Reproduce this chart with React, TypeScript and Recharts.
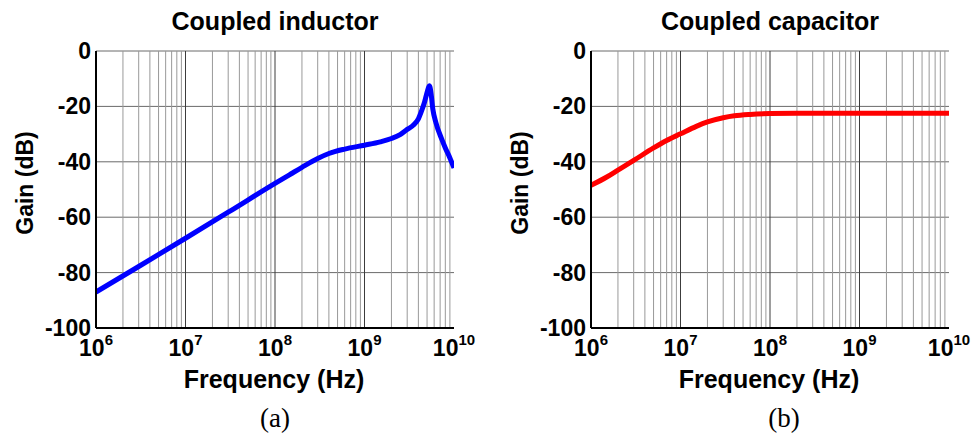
import { LineChart, Line, XAxis, YAxis, CartesianGrid, ReferenceLine } from "recharts";

// frequency response
const freqInductor = [
  1e6, 3e6, 1e7, 3e7, 1e8, 1.5e8, 2e8, 3e8, 4e8, 6e8, 1e9, 1.5e9, 2e9, 2.5e9, 3e9,
  3.5e9, 4e9, 4.3e9, 4.7e9, 5e9, 5.3e9, 5.5e9, 5.8e9, 6.3e9, 7.2e9, 8e9, 9e9, 1e10,
];
const gainInductor = [
  -87, -77.8, -67.6, -58.2, -47.8, -44.4, -42, -38.8, -37, -35.4, -34, -32.8, -31.6,
  -30.2, -28.3, -26.8, -24.5, -22, -18.3, -15, -12.5, -14.5, -21, -26, -31.4,
  -35, -38.6, -42.2,
];

const freqCapacitor = [
  1e6, 1.5e6, 2e6, 3e6, 5e6, 7e6, 1e7, 1.5e7, 2e7, 3e7, 4e7, 6e7, 1e8, 2e8, 1e9, 1e10,
];
const gainCapacitor = [
  -48.5, -45.5, -43, -39.5, -35, -32.3, -29.9, -27.2, -25.6, -24.1, -23.4, -22.9,
  -22.6, -22.5, -22.5, -22.5,
];

const decadeTicks = [1e6, 1e7, 1e8, 1e9, 1e10];
const gainTicks = [-100, -80, -60, -40, -20, 0];
const multipliers = [2, 3, 4, 5, 6, 7, 8, 9];

const minorFreqs = decadeTicks.slice(0, -1).flatMap((d) => multipliers.map((m) => m * d));
const innerDecades = decadeTicks.slice(1, -1);

const SANS = "'Liberation Sans', Arial, sans-serif";
const W = 487;
const H = 436;

const toRows = (f: number[], g: number[]) => f.map((freq, i) => ({ freq, gain: g[i] }));

function PowTick({ x, y, payload }: any) {
  const exp = Math.round(Math.log10(payload.value));
  return (
    <text x={x} y={y + 28} textAnchor="middle" fontFamily={SANS} fontWeight="bold" fontSize={23} fill="#000">
      <tspan>10</tspan>
      <tspan dy={-11} fontSize={15}>
        {exp}
      </tspan>
    </text>
  );
}

function GainTick({ x, y, payload }: any) {
  return (
    <text x={x} y={y + 8} textAnchor="end" fontFamily={SANS} fontWeight="bold" fontSize={23} fill="#000">
      {payload.value}
    </text>
  );
}

function Panel({ rows, color, left, right }: any) {
  return (
    <LineChart width={W} height={H} data={rows} margin={{ top: 51, right, bottom: 0, left: 0 }}>
      <CartesianGrid vertical={false} stroke="#6a6a6a" strokeWidth={1} />
      {minorFreqs.map((f) => (
        <ReferenceLine key={f} x={f} stroke="#999" strokeWidth={1} />
      ))}
      {innerDecades.map((f) => (
        <ReferenceLine key={"d" + f} x={f} stroke="#3c3c3c" strokeWidth={1} />
      ))}
      <XAxis
        dataKey="freq"
        type="number"
        scale="log"
        domain={[1e6, 1e10]}
        allowDataOverflow
        ticks={decadeTicks}
        interval={0}
        tick={<PowTick />}
        tickLine={false}
        tickSize={0}
        tickMargin={0}
        height={108}
        axisLine={{ stroke: "#000", strokeWidth: 2 }}
      />
      <XAxis
        xAxisId="top"
        orientation="top"
        dataKey="freq"
        type="number"
        scale="log"
        domain={[1e6, 1e10]}
        allowDataOverflow
        tick={false}
        tickLine={false}
        height={0}
        axisLine={{ stroke: "#000", strokeWidth: 2 }}
      />
      <YAxis
        type="number"
        domain={[-100, 0]}
        ticks={gainTicks}
        interval={0}
        tick={<GainTick />}
        tickLine={false}
        tickSize={0}
        tickMargin={5}
        width={left}
        axisLine={{ stroke: "#000", strokeWidth: 2 }}
      />
      <YAxis
        yAxisId="right"
        orientation="right"
        type="number"
        domain={[-100, 0]}
        tick={false}
        tickLine={false}
        width={0}
        axisLine={{ stroke: "#000", strokeWidth: 2 }}
      />
      <Line
        type="monotone"
        dataKey="gain"
        stroke={color}
        strokeWidth={5}
        dot={false}
        isAnimationActive={false}
      />
    </LineChart>
  );
}

export default function App() {
  const txt = { fontFamily: SANS, fontWeight: "bold" as const, fill: "#000" };
  return (
    <div style={{ position: "absolute", left: 0, top: 0, width: 974, height: 436, background: "#fff" }}>
      <div style={{ position: "absolute", left: 0, top: 0 }}>
        <Panel rows={toRows(freqInductor, gainInductor)} color="#0000ff" left={96} right={33} />
      </div>
      <div style={{ position: "absolute", left: W, top: 0 }}>
        <Panel rows={toRows(freqCapacitor, gainCapacitor)} color="#ff0000" left={104} right={25} />
      </div>
      <svg width={974} height={436} style={{ position: "absolute", left: 0, top: 0, pointerEvents: "none" }}>
        <text x={275} y={30} textAnchor="middle" fontSize={25} {...txt}>Coupled inductor</text>
        <text x={770} y={30} textAnchor="middle" fontSize={25} {...txt}>Coupled capacitor</text>
        <text x={274} y={388} textAnchor="middle" fontSize={25} {...txt}>Frequency (Hz)</text>
        <text x={769} y={388} textAnchor="middle" fontSize={25} {...txt}>Frequency (Hz)</text>
        <text x={0} y={0} textAnchor="middle" fontSize={23} transform="translate(33,183) rotate(-90)" {...txt}>Gain (dB)</text>
        <text x={0} y={0} textAnchor="middle" fontSize={23} transform="translate(528,183) rotate(-90)" {...txt}>Gain (dB)</text>
        <text x={275} y={427} textAnchor="middle" fontSize={27} fontFamily="'Liberation Serif', 'Times New Roman', serif" fill="#000">(a)</text>
        <text x={784} y={427} textAnchor="middle" fontSize={27} fontFamily="'Liberation Serif', 'Times New Roman', serif" fill="#000">(b)</text>
      </svg>
    </div>
  );
}
